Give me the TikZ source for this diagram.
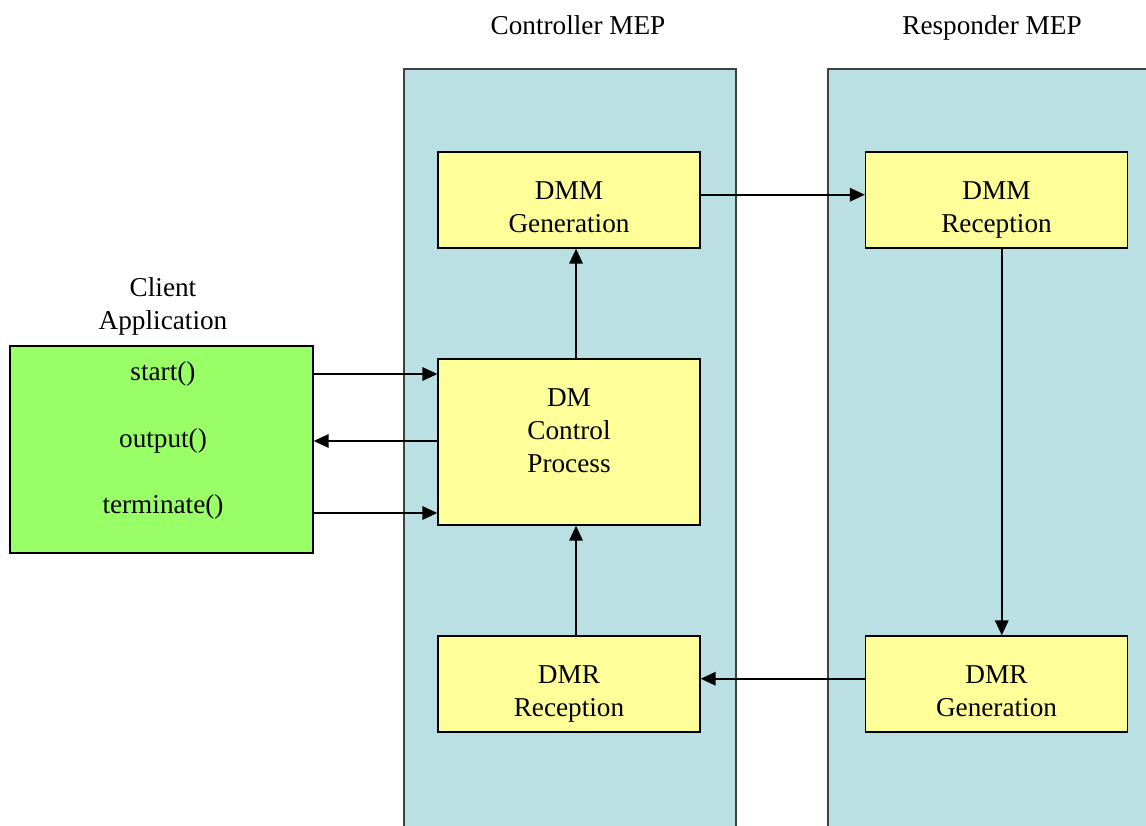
\documentclass[tikz,border=0pt]{standalone}
\usepackage{fontspec}
\setmainfont{Liberation Serif}
\usetikzlibrary{arrows.meta}
\definecolor{mepblue}{HTML}{BBE0E3}
\definecolor{boxyellow}{HTML}{FFFF99}
\definecolor{clientgreen}{HTML}{99FF66}
\begin{document}
\begin{tikzpicture}[x=0.02cm, y=-0.02cm,
    every node/.style = {align=center, font=\fontsize{15.5}{18.8}\selectfont},
    block/.style = {shape=rectangle, draw, line width=0.8pt, fill=boxyellow,
      minimum width=5.24cm, minimum height=1.92cm, inner sep=0pt,
      label={[anchor=north, inner sep=0pt, yshift=-0.5cm]north:{#1}}},
    flow/.style = {-{Triangle[length=0.3cm, width=0.27cm]}, line width=1pt}]
    \useasboundingbox (0,0) rectangle (1146,825);
    \fill[white] (0,0) rectangle (1146,825);
    % the two MEP columns
    \draw[fill=mepblue, line width=1pt, draw=black!75] (404,870) -- (404,69) -- (736,69) -- (736,870);
    \draw[fill=mepblue, line width=1pt, draw=black!75] (828,870) -- (828,69) -- (1160,69) -- (1160,870);
    \node[anchor=base] (ctrltitle) at (578,34) {Controller MEP};
    \node[anchor=base] (resptitle) at (992,34) {Responder MEP};
    % client side
    \node (clienttitle) at (163,306) {\strut Client\\\strut Application};
    \node[draw, line width=0.8pt, fill=clientgreen, minimum width=6.06cm,
      minimum height=4.14cm, inner sep=0pt] (client) at (161.5,449.5) {};
    \node (start) at (163,374) {start()};
    \node (output) at (163,441) {output()};
    \node (term) at (163,507) {terminate()};
    % controller blocks
    \node[block={\strut DMM\\\strut Generation}] (dmmgen) at (569,200) {};
    \node[block={\strut DM\\\strut Control\\\strut Process}, minimum height=3.32cm] (dmc) at (569,442) {};
    \node[block={\strut DMR\\\strut Reception}] (dmrrec) at (569,684) {};
    % responder blocks
    \node[block={\strut DMM\\\strut Reception}] (dmmrec) at (996.5,200) {};
    \node[block={\strut DMR\\\strut Generation}] (dmrgen) at (996.5,684) {};
    % connectors
    \draw[flow] (client.east |- start) -- (dmc.west |- start);
    \draw[flow] (dmc.west |- output) -- (client.east |- output);
    \draw[flow] (client.east |- 0,513) -- (dmc.west |- 0,513);
    \draw[flow] ([xshift=4pt]dmc.north) -- ([xshift=4pt]dmmgen.south);
    \draw[flow] ([yshift=3pt]dmmgen.east) -- ([yshift=3pt]dmmrec.west);
    \draw[flow] ([xshift=3pt]dmmrec.south) -- ([xshift=3pt]dmrgen.north);
    \draw[flow] ([yshift=3pt]dmrgen.west) -- ([yshift=3pt]dmrrec.east);
    \draw[flow] ([xshift=4pt]dmrrec.north) -- ([xshift=4pt]dmc.south);
  \end{tikzpicture}
\end{document}
